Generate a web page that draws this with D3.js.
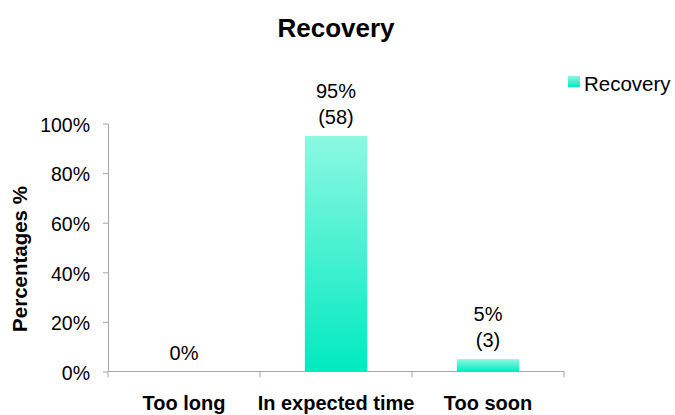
<!DOCTYPE html>
<html>
<head>
<meta charset="utf-8">
<script src="https://cdn.jsdelivr.net/npm/d3@7"></script>
<style>
  body { margin: 0; background: #fff; }
  text { font-family: "Liberation Sans", Arial, sans-serif; fill: #000; }
</style>
</head>
<body>
<div id="chart"></div>
<script>
// data
const categories = ["Too long", "In expected time", "Too soon"];
const percentages = [0, 95, 5];
const counts = [null, 58, 3];
const yTicks = [0, 20, 40, 60, 80, 100];

const width = 675, height = 415;
const margin = {top: 123.5, right: 111, bottom: 43, left: 108};

const svg = d3.select('#chart').append('svg')
  .attr('width', width)
  .attr('height', height);

const defs = svg.append('defs');
const grad = defs.append('linearGradient')
  .attr('id', 'barGrad')
  .attr('x1', 0).attr('y1', 0).attr('x2', 0).attr('y2', 1);
grad.append('stop').attr('offset', '0%').attr('stop-color', '#8cf8e1');
grad.append('stop').attr('offset', '100%').attr('stop-color', '#00eac0');

const x = d3.scaleBand()
  .domain(categories)
  .range([margin.left, width - margin.right])
  .paddingInner(0.59)
  .paddingOuter(0.295);

const y = d3.scaleLinear()
  .domain([0, 100])
  .range([height - margin.bottom - 0.5, margin.top]);

// title
svg.append('text')
  .attr('x', 336)
  .attr('y', 37)
  .attr('text-anchor', 'middle')
  .style('font-size', '26px')
  .style('font-weight', 'bold')
  .text('Recovery');

// y axis
const yAxis = d3.axisLeft(y)
  .tickValues(yTicks)
  .tickFormat(d => d + '%')
  .tickSize(5)
  .tickSizeOuter(0);

const gy = svg.append('g')
  .attr('transform', `translate(${margin.left},0)`)
  .call(yAxis);
gy.select('.domain').attr('stroke', '#a6a6a6');
gy.selectAll('.tick line').attr('stroke', '#a6a6a6');
gy.selectAll('.tick text')
  .attr('x', -18)
  .attr('dy', '0.4em')
  .style('font-size', '19.5px')
  .style('font-family', '"Liberation Sans", Arial, sans-serif')
  .attr('fill', '#000');

// x axis line with boundary ticks
const y0 = y(0);
const boundaries = [margin.left].concat(categories.map(c => x(c) + x.bandwidth() + x.step() * x.paddingInner() / 2));
boundaries[boundaries.length - 1] = width - margin.right;

svg.append('line')
  .attr('x1', margin.left).attr('x2', width - margin.right)
  .attr('y1', y0).attr('y2', y0)
  .attr('stroke', '#a6a6a6');

svg.selectAll('.xtick')
  .data(boundaries)
  .enter()
  .append('line')
  .attr('class', 'xtick')
  .attr('x1', d => d).attr('x2', d => d)
  .attr('y1', y0).attr('y2', y0 + 6)
  .attr('stroke', '#a6a6a6');

svg.selectAll('.xlabel')
  .data(categories)
  .enter()
  .append('text')
  .attr('class', 'xlabel')
  .attr('x', d => x(d) + x.bandwidth() / 2)
  .attr('y', 410)
  .attr('text-anchor', 'middle')
  .style('font-size', '20px')
  .style('font-weight', 'bold')
  .text(d => d);

// y axis title
svg.append('text')
  .attr('transform', `translate(27,259) rotate(-90)`)
  .attr('text-anchor', 'middle')
  .style('font-size', '20.5px')
  .style('font-weight', 'bold')
  .text('Percentages %');

// bars
svg.selectAll('.bar')
  .data(categories)
  .enter()
  .append('rect')
  .attr('class', 'bar')
  .attr('x', d => x(d))
  .attr('y', (d, i) => y(percentages[i]))
  .attr('width', x.bandwidth())
  .attr('height', (d, i) => y0 - y(percentages[i]))
  .attr('fill', 'url(#barGrad)');

// data labels
categories.forEach((c, i) => {
  const cx = x(c) + x.bandwidth() / 2;
  const top = y(percentages[i]);
  const lines = counts[i] == null ? [percentages[i] + '%'] : [percentages[i] + '%', '(' + counts[i] + ')'];
  lines.forEach((t, j) => {
    svg.append('text')
      .attr('x', cx)
      .attr('y', top - 12 - (lines.length - 1 - j) * 26)
      .attr('text-anchor', 'middle')
      .style('font-size', '20px')
      .text(t);
  });
});

// legend
svg.append('rect')
  .attr('x', 568).attr('y', 76)
  .attr('width', 12).attr('height', 11)
  .attr('fill', 'url(#barGrad)');
svg.append('text')
  .attr('x', 584).attr('y', 91)
  .style('font-size', '20.5px')
  .text('Recovery');
</script>
</body>
</html>
